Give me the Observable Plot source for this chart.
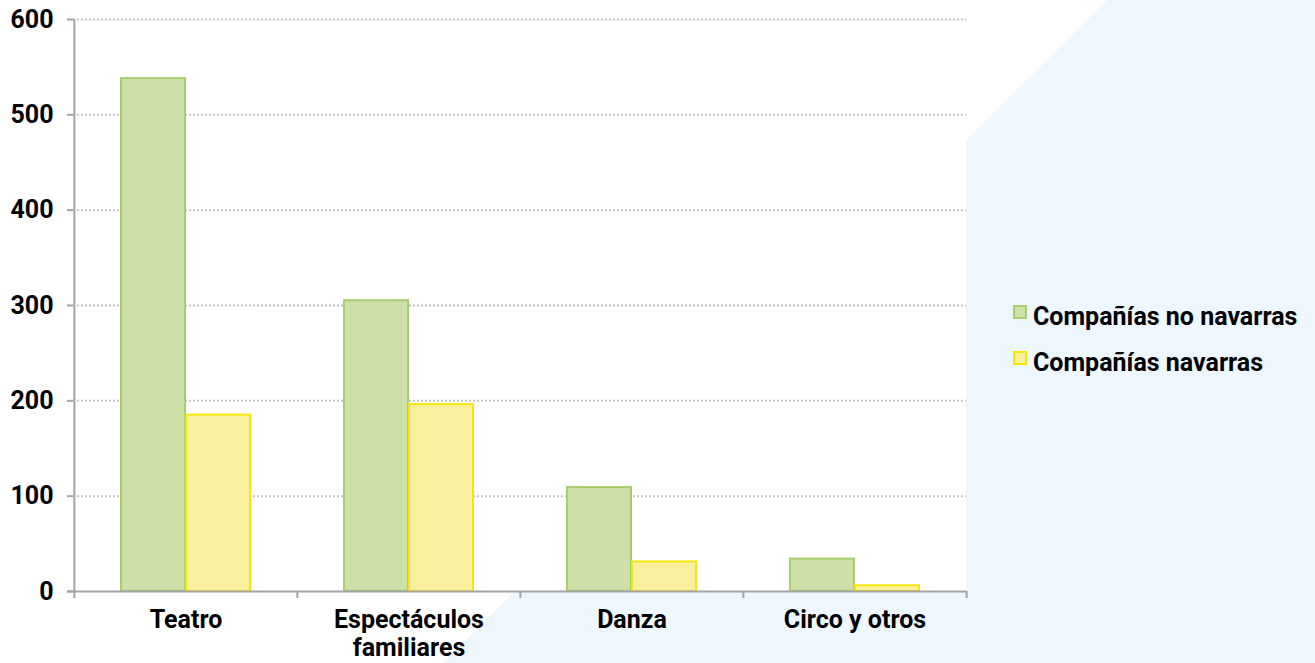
<!DOCTYPE html>
<html>
<head>
<meta charset="utf-8">
<script src="https://cdn.jsdelivr.net/npm/d3@7"></script>
<script src="https://cdn.jsdelivr.net/npm/@observablehq/plot@0.6"></script>
<style>
  body { margin: 0; background: #ffffff; font-family: Roboto, "Noto Sans", sans-serif; }
  #wrap { position: relative; width: 1315px; height: 663px; overflow: hidden; }
  #bg { position: absolute; left: 0; top: 0; width: 1315px; height: 663px; background: #EEF6FE;
        clip-path: polygon(1107px 0, 1315px 0, 1315px 663px, 443px 663px); }
  #white { position: absolute; left: 0; top: 0; width: 966px; height: 592px; background: #ffffff; }
  #chart { position: absolute; left: 0; top: 0; }
  #legend { position: absolute; left: 1013px; top: 302px; font-size: 25px; font-weight: 700; color: #000; }
  .item { display: flex; align-items: flex-start; line-height: 30px; height: 30px; margin-bottom: 16px; white-space: nowrap; }
  .sw { width: 14px; height: 14px; box-sizing: border-box; border: 2px solid; margin-top: 3px; margin-right: 6px; }
</style>
</head>
<body>
<div id="wrap">
  <div id="bg"></div>
  <div id="white"></div>
  <div id="chart"></div>
  <div id="legend"></div>
</div>
<script>
const categories = ["Teatro", "Espectáculos familiares", "Danza", "Circo y otros"];
const seriesNames = ["Compañías no navarras", "Compañías navarras"];
const noNavarras = [538, 305, 109, 34];
const navarras = [185, 196, 31, 6];
const yTicks = [0, 100, 200, 300, 400, 500, 600];

const fills = ["#CCE0A8", "#F8F09C"];
const strokes = ["#A8CD6E", "#F5E50C"];

const rowsA = categories.map((c, i) => ({category: c, value: noNavarras[i]}));
const rowsB = categories.map((c, i) => ({category: c, value: navarras[i]}));

const W = 1315, H = 663, mL = 73, mR = 349, mT = 19, mB = 72;
const step = (W - mL - mR) / categories.length;
const axisColor = "#A3A3A3";

const chart = Plot.plot({
  width: W, height: H,
  marginLeft: mL, marginRight: mR, marginTop: mT, marginBottom: mB,
  style: {background: "transparent", fontFamily: "Roboto, 'Noto Sans', sans-serif", color: "#000"},
  x: {domain: categories, padding: 0},
  y: {domain: [0, 600]},
  marks: [
    Plot.ruleY(yTicks.filter(t => t > 0), {stroke: "#C4C4C4", strokeWidth: 2, strokeDasharray: "2,2"}),
    Plot.barY(rowsA, {x: "category", y: "value", fill: fills[0], stroke: strokes[0], strokeWidth: 2, insetLeft: 47, insetRight: 112}),
    Plot.barY(rowsB, {x: "category", y: "value", fill: fills[1], stroke: strokes[1], strokeWidth: 2, insetLeft: 112, insetRight: 47}),
    Plot.ruleY([0], {stroke: axisColor, strokeWidth: 2, insetLeft: -6}),
    Plot.ruleX([categories[0]], {x: d => d, dx: -step / 2, y1: 0, y2: 600, stroke: axisColor, strokeWidth: 2}),
    Plot.ruleX(categories, {x: d => d, dx: -step / 2, y1: 0, y2: 0, insetBottom: -7, stroke: axisColor, strokeWidth: 2}),
    Plot.ruleX([categories[categories.length - 1]], {x: d => d, dx: step / 2, y1: 0, y2: 0, insetBottom: -7, stroke: axisColor, strokeWidth: 2}),
    Plot.axisY({ticks: yTicks, tickSize: 6, tickPadding: 14, stroke: axisColor, strokeWidth: 2, fill: "#000",
                fontSize: 25, fontWeight: "bold", label: null}),
    Plot.axisX({tickSize: 0, tickPadding: 17, fill: "#000", fontSize: 25, fontWeight: "bold", lineHeight: 1.12,
                tickFormat: d => d === "Espectáculos familiares" ? "Espectáculos\nfamiliares" : d, label: null})
  ]
});
document.getElementById("chart").appendChild(chart);

const legend = document.getElementById("legend");
seriesNames.forEach((name, i) => {
  const item = document.createElement("div");
  item.className = "item";
  const sw = document.createElement("span");
  sw.className = "sw";
  sw.style.background = fills[i];
  sw.style.borderColor = strokes[i];
  const t = document.createElement("span");
  t.textContent = name;
  item.appendChild(sw);
  item.appendChild(t);
  legend.appendChild(item);
});
</script>
</body>
</html>
